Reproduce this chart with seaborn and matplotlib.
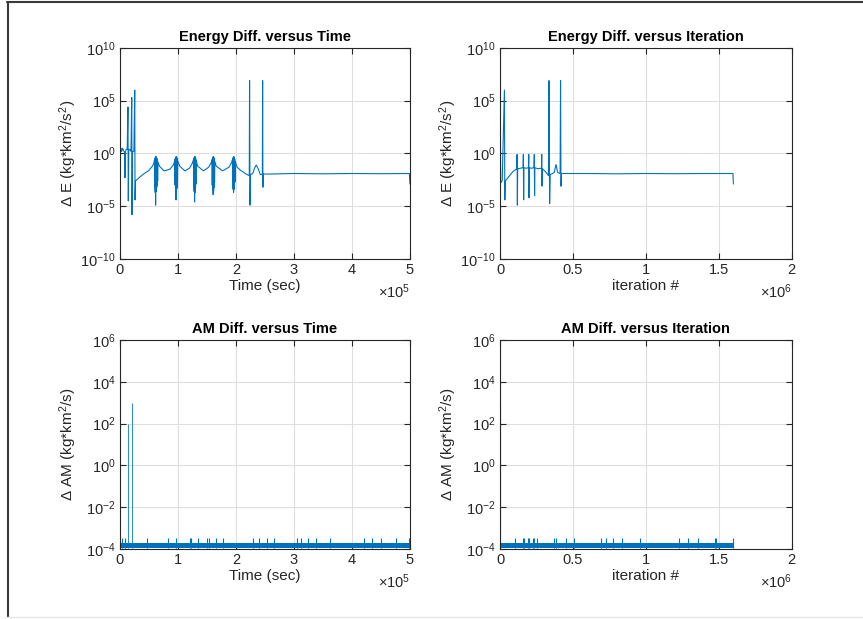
import numpy as np
import matplotlib
matplotlib.use("Agg")
import matplotlib.pyplot as plt
from matplotlib.lines import Line2D
import seaborn as sns

# ---- data (x in display units, y as log10) ----
# Energy difference versus time (x in 1e5 sec)
e_time_x = [0.000, 0.004, 0.010, 0.020, 0.030, 0.045, 0.060, 0.080, 0.086, 0.095,
            0.110, 0.125, 0.138, 0.144, 0.152, 0.170, 0.190, 0.203, 0.208, 0.216,
            0.240, 0.255, 0.260, 0.268, 0.290, 0.350, 0.420, 0.500, 0.560, 0.585,
            0.596, 0.599, 0.603, 0.607, 0.611, 0.615, 0.619, 0.623, 0.627, 0.631,
            0.635, 0.639, 0.644, 0.650, 0.656, 0.680, 0.760, 0.860, 0.920, 0.945,
            0.948, 0.951, 0.955, 0.959, 0.963, 0.967, 0.971, 0.975, 0.979, 0.983,
            0.987, 0.991, 0.996, 1.030, 1.120, 1.200, 1.250, 1.265,
            1.268, 1.271, 1.275, 1.279, 1.283, 1.287, 1.291, 1.295, 1.299, 1.303,
            1.307, 1.311, 1.316, 1.340, 1.440, 1.530, 1.580, 1.588,
            1.591, 1.595, 1.599, 1.603, 1.607, 1.611, 1.615, 1.619, 1.623, 1.627,
            1.631, 1.636, 1.660, 1.770, 1.880, 1.930, 1.940,
            1.943, 1.947, 1.951, 1.955, 1.959, 1.963, 1.967, 1.971, 1.975, 1.979,
            1.984, 1.990, 2.020, 2.080, 2.150, 2.190, 2.230, 2.235, 2.242, 2.250,
            2.290, 2.320, 2.350, 2.380, 2.420, 2.455, 2.460, 2.465, 2.470, 2.600,
            3.000, 3.500, 4.000, 4.500, 4.990, 5.000]
e_time_y = [-6.2, 0.3, 0.1, 0.45, 0.2, 0.5, 0.3, 0.1, -2.3, 0.2,
            0.4, 0.4, 4.4, -4.5, 0.3, 0.4, 0.2, 5.3, -5.8, 0.2,
            0.2, 6.0, -4.4, -2.6, -2.5, -2.2, -1.9, -1.6, -1.2, -0.9,
            -0.6, -3.2, -0.5, -3.7, -0.35, -4.9, -0.3, -3.6, -0.35, -3.3,
            -0.45, -3.1, -0.6, -2.6, -0.8, -1.2, -1.65, -1.5, -1.1, -0.7,
            -0.6, -3.0, -0.5, -4.0, -0.35, -4.4, -0.3, -3.6, -0.35, -3.3,
            -0.5, -2.9, -0.7, -1.2, -1.65, -1.4, -0.9, -0.65,
            -0.6, -3.1, -0.5, -3.6, -0.35, -4.6, -0.3, -3.7, -0.35, -3.3,
            -0.5, -2.9, -0.7, -1.2, -1.65, -1.3, -0.8, -0.6,
            -3.0, -0.5, -3.5, -0.35, -3.9, -0.3, -3.6, -0.4, -3.2, -0.5,
            -2.8, -0.75, -1.2, -1.65, -1.3, -0.8, -0.6,
            -3.0, -0.5, -3.4, -0.35, -3.7, -0.3, -3.4, -0.4, -3.0, -0.55,
            -2.7, -0.8, -1.3, -1.6, -1.85, -2.0, -2.1, 6.9, -4.9, -2.0,
            -1.9, -1.4, -1.1, -1.4, -2.0, -2.0, 6.9, -3.2, -1.95, -1.95,
            -1.9, -1.93, -1.9, -1.92, -1.9, -2.9]

# Energy difference versus iteration (x in 1e6 iterations)
e_iter_x = [0.000, 0.002, 0.004, 0.008, 0.015, 0.030, 0.033, 0.036, 0.060, 0.090,
            0.115, 0.117, 0.119, 0.121, 0.140, 0.158, 0.160, 0.162, 0.164, 0.180,
            0.195, 0.197, 0.199, 0.201, 0.215, 0.233, 0.235, 0.237, 0.239, 0.260,
            0.284, 0.286, 0.288, 0.290, 0.310, 0.332, 0.336, 0.340, 0.344, 0.360,
            0.372, 0.384, 0.395, 0.412, 0.415, 0.418, 0.421, 0.600, 0.800, 1.000,
            1.200, 1.400, 1.597, 1.600]
e_iter_y = [-6.2, 4.4, -2.8, -2.7, -2.6, 6.0, -4.4, -2.6, -2.2, -1.7,
            -1.45, -0.1, -4.9, -1.45, -1.4, -1.35, -0.1, -4.4, -1.35, -1.4,
            -1.35, -0.1, -4.2, -1.35, -1.4, -1.35, -0.1, -4.0, -1.35, -1.45,
            -1.4, -0.1, -3.1, -1.45, -1.7, -2.1, 6.9, -4.75, -2.0, -1.9,
            -1.8, -1.05, -1.8, -1.9, 6.9, -3.1, -1.9, -1.9, -1.93, -1.9,
            -1.92, -1.9, -1.9, -2.9]

# Angular momentum difference: a dense band with small and large spikes
am_band_low = -3.95
am_band_high = -3.71
am_small_spike = -3.48

am_time_end = 5.0
am_time_big_x = [0.14, 0.21]
am_time_big_y = [2.0, 3.0]
am_time_spikes = [0.04, 0.09, 0.46, 0.82, 0.97, 1.20, 1.22, 1.34, 1.50, 1.53, 1.65,
                  1.77, 2.30, 2.39, 2.54, 2.66, 3.05, 3.12, 3.24, 3.38, 3.63, 4.21,
                  4.35, 4.50, 4.76, 4.99]

am_iter_end = 1.6
am_iter_big_x = [0.002]
am_iter_big_y = [3.0]
am_iter_spikes = [0.105, 0.156, 0.165, 0.190, 0.201, 0.229, 0.236, 0.252, 0.371,
                  0.382, 0.451, 0.510, 0.693, 0.725, 0.773, 0.835, 0.957, 1.229,
                  1.288, 1.359, 1.476, 1.483, 1.600]

assert len(e_time_x) == len(e_time_y)
assert len(e_iter_x) == len(e_iter_y)

BLUE = "#0072BD"
DARK = "#262626"

sns.set_style("ticks")
plt.rcParams['font.family'] = ['Liberation Sans', 'DejaVu Sans']
plt.rcParams['mathtext.fontset'] = 'custom'
plt.rcParams['mathtext.rm'] = 'Liberation Sans'
plt.rcParams['mathtext.it'] = 'Liberation Sans:italic'
plt.rcParams['mathtext.bf'] = 'Liberation Sans:bold'
plt.rcParams['mathtext.default'] = 'regular'

fig = plt.figure(figsize=(8.63, 6.19), dpi=100)
positions = {
    "tl": [0.139, 0.5816, 0.336, 0.341],
    "tr": [0.5794, 0.5816, 0.338, 0.341],
    "bl": [0.139, 0.1131, 0.336, 0.3376],
    "br": [0.5794, 0.1131, 0.338, 0.3376],
}


def style_axes(ax, title, xlabel, ylabel, xlim, xticks, xticklabels, ylim, yticks, mult):
    ax.set_yscale("log")
    ax.set_xlim(*xlim)
    ax.set_ylim(*ylim)
    ax.set_xticks(xticks)
    ax.set_xticklabels(xticklabels)
    ax.set_yticks(yticks)
    ax.yaxis.set_minor_locator(matplotlib.ticker.NullLocator())
    ax.grid(True, color="#dedede", lw=0.8)
    ax.set_axisbelow(True)
    for s in ax.spines.values():
        s.set_color(DARK)
        s.set_linewidth(0.8)
    ax.tick_params(direction="in", length=4, width=0.8, top=True, right=True,
                   colors=DARK, labelsize=10.5, pad=3)
    ax.set_title(title, fontsize=10.5, fontweight="bold", color="black", pad=5)
    ax.set_xlabel(xlabel, fontsize=11, color=DARK, labelpad=1)
    ax.set_ylabel(ylabel, fontsize=11, color=DARK)
    ax.yaxis.set_label_coords(-0.14, 0.5)
    ax.text(1.0, -0.155, r"$\times10^{%d}$" % mult, transform=ax.transAxes,
            ha="right", va="center", fontsize=10.5, color=DARK)


e_ticks = [1e-10, 1e-5, 1e0, 1e5, 1e10]
am_ticks = [1e-4, 1e-2, 1e0, 1e2, 1e4, 1e6]
e_label = "Δ E (kg*km$^2$/s$^2$)"
am_label = "Δ AM (kg*km$^2$/s)"

# Energy vs time
ax = fig.add_axes(positions["tl"])
sns.lineplot(x=e_time_x, y=np.power(10.0, e_time_y), sort=False, estimator=None,
             color=BLUE, lw=0.8, ax=ax)
style_axes(ax, "Energy Diff. versus Time", "Time (sec)", e_label, (0, 5),
           [0, 1, 2, 3, 4, 5], ["0", "1", "2", "3", "4", "5"], (1e-10, 1e10), e_ticks, 5)

# Energy vs iteration
ax = fig.add_axes(positions["tr"])
sns.lineplot(x=e_iter_x, y=np.power(10.0, e_iter_y), sort=False, estimator=None,
             color=BLUE, lw=0.8, ax=ax)
style_axes(ax, "Energy Diff. versus Iteration", "iteration #", e_label, (0, 2),
           [0, 0.5, 1, 1.5, 2], ["0", "0.5", "1", "1.5", "2"], (1e-10, 1e10), e_ticks, 6)


def am_panel(ax, end, big_x, big_y, spikes):
    lo, hi = 10.0 ** am_band_low, 10.0 ** am_band_high
    ax.fill_between([0, end], [lo, lo], [hi, hi], color=BLUE, lw=0)
    ax.vlines(spikes, lo, 10.0 ** am_small_spike, color=BLUE, lw=0.8)
    ax.vlines(big_x, lo, np.power(10.0, big_y), color=BLUE, lw=0.8, alpha=0.8)


ax = fig.add_axes(positions["bl"])
am_panel(ax, am_time_end, am_time_big_x, am_time_big_y, am_time_spikes)
style_axes(ax, "AM Diff. versus Time", "Time (sec)", am_label, (0, 5),
           [0, 1, 2, 3, 4, 5], ["0", "1", "2", "3", "4", "5"], (1e-4, 1e6), am_ticks, 5)

ax = fig.add_axes(positions["br"])
am_panel(ax, am_iter_end, am_iter_big_x, am_iter_big_y, am_iter_spikes)
style_axes(ax, "AM Diff. versus Iteration", "iteration #", am_label, (0, 2),
           [0, 0.5, 1, 1.5, 2], ["0", "0.5", "1", "1.5", "2"], (1e-4, 1e6), am_ticks, 6)

# window frame around the figure
fig.add_artist(Line2D([7 / 863, 1.0], [1 - 1.5 / 619] * 2, color="#3a3a3a", lw=1.5))
fig.add_artist(Line2D([7.5 / 863] * 2, [1 - 1.5 / 619, 1 - 617 / 619], color="#3a3a3a", lw=1.5))
fig.add_artist(Line2D([7 / 863, 1.0], [1 - 617 / 619] * 2, color="#e6e6e6", lw=1))

fig.savefig("out.png", dpi=100)
